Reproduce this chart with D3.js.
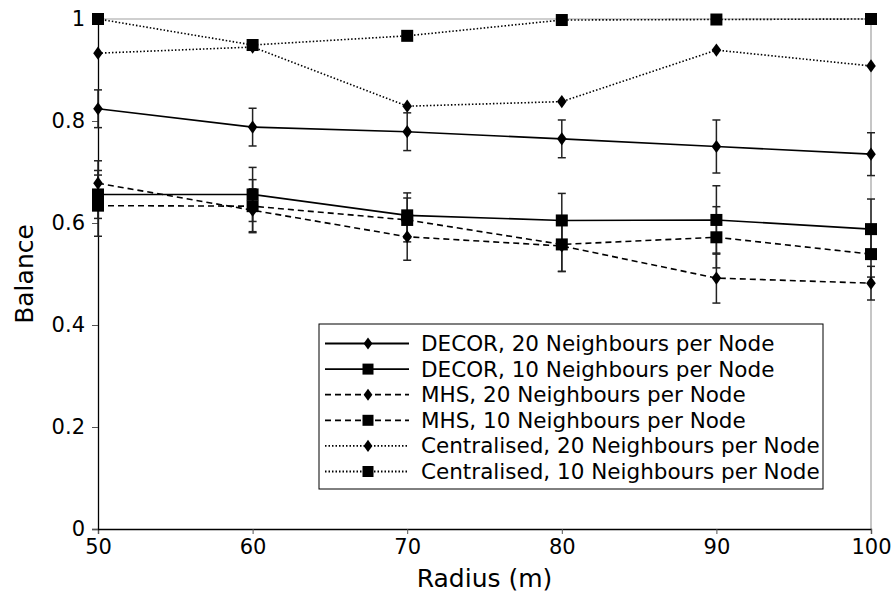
<!DOCTYPE html>
<html>
<head>
<meta charset="utf-8">
<script src="https://cdn.jsdelivr.net/npm/d3@7/dist/d3.min.js"></script>
<style>
  body { margin: 0; background: #fff; }
  text { font-family: "DejaVu Sans", sans-serif; fill: #000; }
</style>
</head>
<body>
<svg id="chart" width="893" height="598"></svg>
<script>
// data
const radius = [50, 60, 70, 80, 90, 100];

const decor20 = [0.824, 0.788, 0.779, 0.765, 0.750, 0.735];
const decor20Err = [0.037, 0.037, 0.037, 0.037, 0.052, 0.042];
const decor10 = [0.656, 0.656, 0.615, 0.605, 0.606, 0.588];
const decor10Err = [0.047, 0.053, 0.044, 0.053, 0.067, 0.059];
const mhs20 = [0.678, 0.625, 0.573, 0.555, 0.492, 0.482];
const mhs20Err = [0.044, 0.042, 0.046, 0.050, 0.049, 0.033];
const mhs10 = [0.634, 0.633, 0.606, 0.558, 0.572, 0.539];
const mhs10Err = [0.060, 0.052, 0.043, 0.053, 0.060, 0.045];
const central20 = [0.933, 0.945, 0.829, 0.838, 0.939, 0.908];
const central10 = [1.0, 0.949, 0.967, 0.998, 0.999, 1.0];

const seriesNames = [
  "DECOR, 20 Neighbours per Node",
  "DECOR, 10 Neighbours per Node",
  "MHS, 20 Neighbours per Node",
  "MHS, 10 Neighbours per Node",
  "Centralised, 20 Neighbours per Node",
  "Centralised, 10 Neighbours per Node"
];
const xTicks = [50, 60, 70, 80, 90, 100];
const yTicks = [0, 0.2, 0.4, 0.6, 0.8, 1];

const series = [
  { name: seriesNames[0], values: decor20, err: decor20Err, marker: "diamond", dash: null },
  { name: seriesNames[1], values: decor10, err: decor10Err, marker: "square", dash: null },
  { name: seriesNames[2], values: mhs20, err: mhs20Err, marker: "diamond", dash: "6,4" },
  { name: seriesNames[3], values: mhs10, err: mhs10Err, marker: "square", dash: "6,4" },
  { name: seriesNames[4], values: central20, err: null, marker: "diamond", dash: "1.5,2" },
  { name: seriesNames[5], values: central10, err: null, marker: "square", dash: "1.5,2" }
];

const svg = d3.select("#chart");
const margin = { left: 98, right: 22, top: 19, bottom: 69 };
const width = 893 - margin.left - margin.right;
const height = 598 - margin.top - margin.bottom;

const x = d3.scaleLinear().domain([50, 100]).range([0, width]);
const y = d3.scaleLinear().domain([0, 1]).range([height, 0]);

const g = svg.append("g").attr("transform", `translate(${margin.left},${margin.top})`);

// grey top / right frame
g.append("line").attr("x1", 0).attr("x2", width).attr("y1", 0).attr("y2", 0)
  .attr("stroke", "#a0a0a0").attr("stroke-width", 1.2);
g.append("line").attr("x1", width).attr("x2", width).attr("y1", 0).attr("y2", height)
  .attr("stroke", "#a0a0a0").attr("stroke-width", 1.2);

// axes
const xAxis = g.append("g").attr("transform", `translate(0,${height})`)
  .call(d3.axisBottom(x).tickValues(xTicks).tickSize(5).tickPadding(4).tickFormat(d3.format("d")));
const yAxis = g.append("g")
  .call(d3.axisLeft(y).tickValues(yTicks).tickSize(6).tickPadding(7).tickFormat(d => d === 0 || d === 1 ? d3.format("d")(d) : d3.format(".1f")(d)));

[xAxis, yAxis].forEach(a => {
  a.select(".domain").attr("stroke", "#000").attr("stroke-width", 1.3);
  a.selectAll(".tick line").attr("stroke", "#555").attr("stroke-width", 1);
  a.selectAll(".tick text").style("font-size", "21px").attr("fill", "#000");
});
xAxis.selectAll(".tick text").attr("dy", "0.75em");

// axis titles
svg.append("text")
  .attr("x", margin.left + width / 2).attr("y", 587)
  .attr("text-anchor", "middle").style("font-size", "25px").text("Radius (m)");
svg.append("text")
  .attr("transform", `translate(33,${margin.top + height / 2}) rotate(-90)`)
  .attr("text-anchor", "middle").style("font-size", "25px").text("Balance");

const line = d3.line().x((d, i) => x(radius[i])).y(d => y(d));

function drawMarker(sel, type, size) {
  if (type === "diamond") {
    const h = size / 2;
    sel.append("path").attr("d", `M0,${-h * 1.1}L${h * 0.8},0L0,${h * 1.1}L${-h * 0.8},0Z`).attr("fill", "#000");
  } else {
    sel.append("rect").attr("x", -size / 2).attr("y", -size / 2)
      .attr("width", size).attr("height", size).attr("fill", "#000");
  }
}

// error bars
series.filter(s => s.err).forEach(s => {
  const eb = g.append("g").attr("class", "errbar");
  s.values.forEach((v, i) => {
    const cx = x(radius[i]);
    const lo = y(v - s.err[i]), hi = y(v + s.err[i]);
    eb.append("line").attr("x1", cx).attr("x2", cx).attr("y1", lo).attr("y2", hi)
      .attr("stroke", "#222").attr("stroke-width", 1.5);
    [lo, hi].forEach(yy => eb.append("line").attr("x1", cx - 4).attr("x2", cx + 4)
      .attr("y1", yy).attr("y2", yy).attr("stroke", "#222").attr("stroke-width", 1.5));
  });
});

// lines + markers
series.forEach(s => {
  g.append("path").datum(s.values)
    .attr("d", line).attr("fill", "none").attr("stroke", "#000")
    .attr("stroke-width", 1.6)
    .attr("stroke-dasharray", s.dash);
  g.selectAll(null).data(s.values).join("g")
    .attr("transform", (d, i) => `translate(${x(radius[i])},${y(d)})`)
    .each(function () { drawMarker(d3.select(this), s.marker, 12); });
});

// legend
const lg = svg.append("g").attr("transform", "translate(319,324)");
lg.append("rect").attr("x", 0).attr("y", 0).attr("width", 504).attr("height", 165)
  .attr("fill", "#fff").attr("stroke", "#000").attr("stroke-width", 1);
series.forEach((s, i) => {
  const ry = 19.5 + i * 25.6;
  lg.append("line").attr("x1", 6).attr("x2", 90).attr("y1", ry).attr("y2", ry)
    .attr("stroke", "#000").attr("stroke-width", 1.8).attr("stroke-dasharray", s.dash);
  const m = lg.append("g").attr("transform", `translate(49,${ry})`);
  drawMarker(m, s.marker, 11);
  lg.append("text").attr("x", 102).attr("y", ry).attr("dy", "0.35em")
    .style("font-size", "21.5px").text(s.name);
});
</script>
</body>
</html>
